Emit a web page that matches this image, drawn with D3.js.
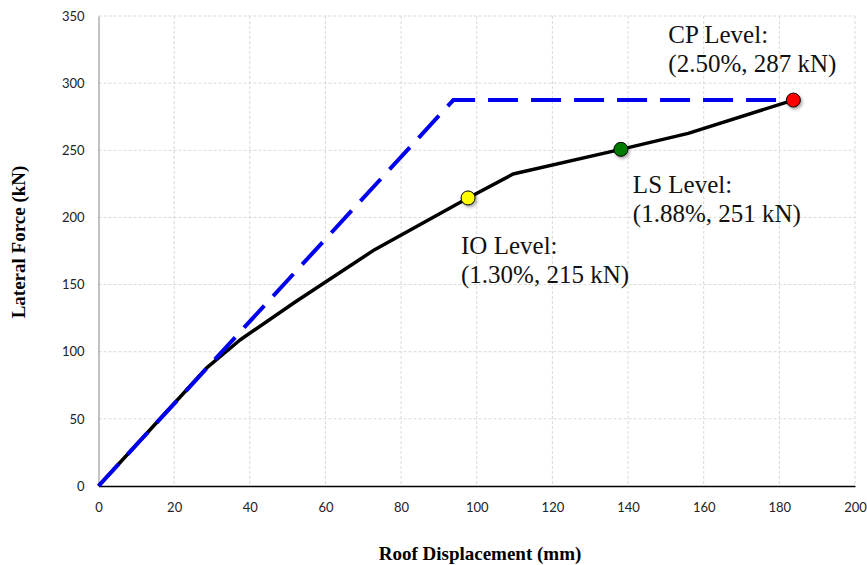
<!DOCTYPE html>
<html>
<head>
<meta charset="utf-8">
<script src="https://cdn.jsdelivr.net/npm/d3@7"></script>
<style>
  body { margin: 0; background: #fff; }
  .tick text { font-family: Lato, "Open Sans", sans-serif; font-size: 13px; fill: #222; }
  .axis-title { font-family: "Liberation Serif", "Times New Roman", serif; font-size: 19px; font-weight: bold; }
  .level-label { font-family: "Liberation Serif", "Times New Roman", serif; font-size: 25px; fill: #111; }
</style>
</head>
<body>
<div id="chart"></div>
<script>
// Pushover curve (roof displacement mm, base shear kN)
var curveDisp  = [0, 28.6, 37.4, 52, 73, 97.7, 109.6, 138.1, 155.9, 183.7];
var curveForce = [0, 87.9, 108.7, 137, 176, 214.5, 232.3, 250.7, 262.6, 287.4];

// Idealized bilinear curve
var idealDisp  = [0, 93.8, 183.7];
var idealForce = [0, 287.4, 287.4];

// Performance levels
var levelNames = ['IO Level:', 'LS Level:', 'CP Level:'];
var levelText  = ['(1.30%, 215 kN)', '(1.88%, 251 kN)', '(2.50%, 287 kN)'];
var levelDisp  = [97.7, 138.1, 183.7];
var levelForce = [214.5, 250.7, 287.4];
var levelColor = ['#ffff00', '#007a00', '#ff0000'];

var xTicks = [0, 20, 40, 60, 80, 100, 120, 140, 160, 180, 200];
var yTicks = [0, 50, 100, 150, 200, 250, 300, 350];

var width = 867, height = 565;
var plotLeft = 98.5, plotRight = 855, plotTop = 16, plotBottom = 486;

var svg = d3.select('#chart')
            .append('svg')
            .attr('width', width)
            .attr('height', height);

// drop shadow for the markers
var filter = svg.append('defs').append('filter')
  .attr('id', 'shadow')
  .attr('x', '-50%').attr('y', '-50%')
  .attr('width', '200%').attr('height', '200%');
filter.append('feDropShadow')
  .attr('dx', 1.5).attr('dy', 2)
  .attr('stdDeviation', 1.5)
  .attr('flood-color', '#000')
  .attr('flood-opacity', 0.35);

var x = d3.scaleLinear().domain([0, 200]).range([plotLeft, plotRight]);
var y = d3.scaleLinear().domain([0, 350]).range([plotBottom, plotTop]);

// Grid lines
svg.append('g')
   .selectAll('line')
   .data(xTicks.slice(1))
   .join('line')
   .attr('x1', d => x(d)).attr('x2', d => x(d))
   .attr('y1', plotTop).attr('y2', plotBottom)
   .attr('stroke', '#d9d9d9')
   .attr('stroke-dasharray', '3,2');

svg.append('g')
   .selectAll('line')
   .data(yTicks.slice(1))
   .join('line')
   .attr('x1', plotLeft).attr('x2', plotRight)
   .attr('y1', d => y(d)).attr('y2', d => y(d))
   .attr('stroke', '#d9d9d9')
   .attr('stroke-dasharray', '3,2');

// Axes
var yAxis = svg.append('g')
   .attr('transform', 'translate(' + plotLeft + ',0)')
   .call(d3.axisLeft(y).tickValues(yTicks).tickSize(0).tickPadding(14));
yAxis.select('.domain').attr('stroke', '#999').attr('stroke-width', 1.2);

var xAxis = svg.append('g')
   .attr('transform', 'translate(0,' + plotBottom + ')')
   .call(d3.axisBottom(x).tickValues(xTicks).tickSize(0).tickPadding(17));
xAxis.select('.domain').attr('stroke', '#000').attr('stroke-width', 1.5);

// Axis titles
svg.append('text')
   .attr('class', 'axis-title')
   .attr('x', 480).attr('y', 560)
   .attr('text-anchor', 'middle')
   .text('Roof Displacement (mm)');

svg.append('text')
   .attr('class', 'axis-title')
   .attr('transform', 'translate(25,242) rotate(-90)')
   .attr('text-anchor', 'middle')
   .text('Lateral Force (kN)');

var line = d3.line()
  .x(d => x(d[0]))
  .y(d => y(d[1]));

// Pushover curve
svg.append('path')
   .datum(d3.zip(curveDisp, curveForce))
   .attr('d', line)
   .attr('fill', 'none')
   .attr('stroke', '#000')
   .attr('stroke-width', 3.5)
   .attr('stroke-linejoin', 'round');

// Idealized curve
svg.append('path')
   .datum(d3.zip(idealDisp, idealForce))
   .attr('d', line)
   .attr('fill', 'none')
   .attr('stroke', '#0000ee')
   .attr('stroke-width', 4)
   .attr('stroke-dasharray', '30,13');

// Level markers
svg.append('g')
   .selectAll('circle')
   .data(d3.range(levelDisp.length))
   .join('circle')
   .attr('cx', i => x(levelDisp[i]))
   .attr('cy', i => y(levelForce[i]))
   .attr('r', 7)
   .attr('fill', i => levelColor[i])
   .attr('stroke', '#000')
   .attr('stroke-width', 1)
   .attr('filter', 'url(#shadow)');

// Level labels (offsets from the marker)
var labelOffset = [[-7, 56], [12, 44], [-125, -57]];
var labels = svg.append('g')
   .selectAll('text')
   .data(d3.range(levelNames.length))
   .join('text')
   .attr('class', 'level-label')
   .attr('x', i => x(levelDisp[i]) + labelOffset[i][0])
   .attr('y', i => y(levelForce[i]) + labelOffset[i][1]);
labels.append('tspan').text(i => levelNames[i]);
labels.append('tspan')
   .attr('x', i => x(levelDisp[i]) + labelOffset[i][0])
   .attr('dy', 29)
   .text(i => levelText[i]);
</script>
</body>
</html>
